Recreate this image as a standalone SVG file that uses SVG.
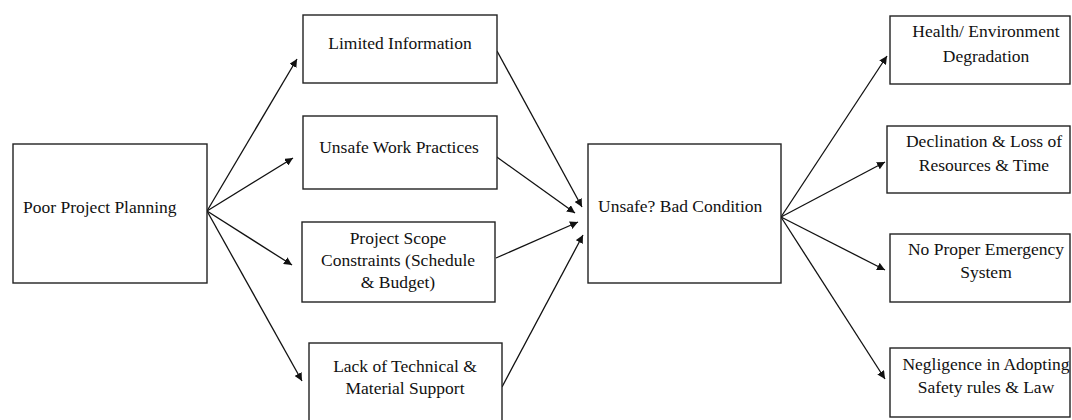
<svg xmlns="http://www.w3.org/2000/svg" width="1072" height="420" viewBox="0 0 1072 420">
<style>
.box{fill:#fff;stroke:#222;stroke-width:1.4}
.t{font-family:"Liberation Serif","Times New Roman","DejaVu Serif",serif;font-size:17.5px;fill:#111}
.c{text-anchor:middle}
.ln{stroke:#111;stroke-width:1.3;fill:none;marker-end:url(#ah)}
</style>
<defs>
<marker id="ah" viewBox="0 0 10 10" refX="10" refY="5" markerWidth="8" markerHeight="8" markerUnits="userSpaceOnUse" orient="auto">
<path d="M0,0 L10,5 L0,10 z" fill="#111"/>
</marker>
</defs>
<rect width="1072" height="420" fill="#fff"/>
<g id="connectors">
<line class="ln" x1="207" y1="211" x2="297" y2="59"/>
<line class="ln" x1="207" y1="211" x2="293" y2="158"/>
<line class="ln" x1="207" y1="211" x2="292" y2="265"/>
<line class="ln" x1="207" y1="211" x2="302" y2="381"/>
<line class="ln" x1="497" y1="51" x2="582" y2="207"/>
<line class="ln" x1="494" y1="155" x2="575" y2="213"/>
<line class="ln" x1="496" y1="258" x2="578" y2="222"/>
<line class="ln" x1="502" y1="387" x2="583" y2="235"/>
<line class="ln" x1="781" y1="217" x2="887" y2="56"/>
<line class="ln" x1="781" y1="217" x2="885" y2="162"/>
<line class="ln" x1="781" y1="217" x2="885" y2="270"/>
<line class="ln" x1="781" y1="217" x2="885" y2="379"/>
</g>
<g id="poor-planning">
<rect class="box" x="13" y="144" width="194" height="139"/>
<text class="t" x="23" y="213">Poor Project Planning</text>
</g>
<g id="limited-information">
<rect class="box" x="303" y="15" width="194" height="68"/>
<text class="t c" x="400" y="49">Limited Information</text>
</g>
<g id="unsafe-work">
<rect class="box" x="303" y="116" width="194" height="73"/>
<text class="t c" x="399" y="153">Unsafe Work Practices</text>
</g>
<g id="project-scope">
<rect class="box" x="302" y="222" width="193" height="80"/>
<text class="t c" x="398" y="244">Project Scope</text>
<text class="t c" x="398" y="266">Constraints (Schedule</text>
<text class="t c" x="398" y="288">&amp; Budget)</text>
</g>
<g id="lack-support">
<rect class="box" x="309" y="343" width="193" height="90"/>
<text class="t c" x="405" y="372">Lack of Technical &amp;</text>
<text class="t c" x="405" y="394">Material Support</text>
</g>
<g id="unsafe-condition">
<rect class="box" x="588" y="144" width="193" height="139"/>
<text class="t" x="598" y="212">Unsafe? Bad Condition</text>
</g>
<g id="health">
<rect class="box" x="890" y="16" width="180" height="68"/>
<text class="t c" x="986" y="37">Health/ Environment</text>
<text class="t c" x="986" y="62">Degradation</text>
</g>
<g id="declination">
<rect class="box" x="887" y="126" width="183" height="67"/>
<text class="t c" x="984" y="147">Declination &amp; Loss of</text>
<text class="t c" x="984" y="171">Resources &amp; Time</text>
</g>
<g id="emergency">
<rect class="box" x="890" y="234" width="180" height="68"/>
<text class="t c" x="986" y="255">No Proper Emergency</text>
<text class="t c" x="986" y="278">System</text>
</g>
<g id="negligence">
<rect class="box" x="890" y="348" width="180" height="69"/>
<text class="t c" x="986" y="370">Negligence in Adopting</text>
<text class="t c" x="986" y="393">Safety rules &amp; Law</text>
</g>
</svg>
